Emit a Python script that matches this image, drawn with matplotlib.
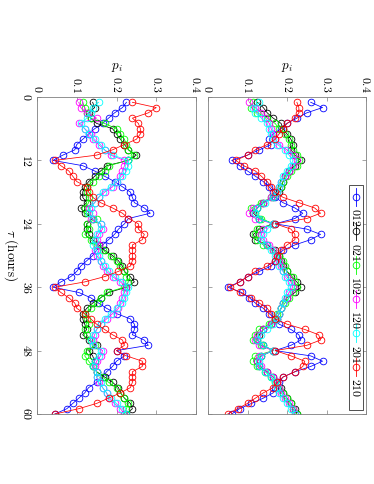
import numpy as np
import matplotlib
matplotlib.use('Agg')
import matplotlib.pyplot as plt
from matplotlib.patches import Rectangle
from matplotlib.lines import Line2D

plt.rcParams['mathtext.fontset'] = 'cm'
plt.rcParams['font.family'] = ['DejaVu Serif']

tau = np.arange(1, 61)
labels = ['012', '021', '102', '120', '201', '210']
colors = ['#0000ff', '#000000', '#00ff00', '#ff00ff', '#00ffff', '#ff0000']
p_ticks = [0, 0.1, 0.2, 0.3, 0.4]
p_ticklabels = ['0', '0.1', '0.2', '0.3', '0.4']
tau_ticks = [0, 12, 24, 36, 48, 60]

# left panel (lower subplot of the original, rotated)
left_012 = [.225, .215, .195, .18, .165, .145, .13, .115, .10, .095, .065, .04,
            .115, .145, .17, .195, .215, .235, .24, .245, .27, .285, .23, .22,
            .205, .195, .18, .165, .15, .14, .125, .11, .10, .085, .06, .04,
            .105, .135, .155, .175, .20, .235, .245, .245, .24, .27, .28, .20,
            .22, .20, .19, .175, .165, .15, .13, .12, .105, .09, .075, .045]
left_021 = [.14, .145, .13, .135, .15, .19, .20, .21, .22, .23, .25, .23,
            .175, .16, .145, .13, .12, .115, .115, .125, .11, .12, .14, .125,
            .125, .13, .14, .155, .17, .19, .205, .215, .22, .235, .245, .225,
            .18, .16, .14, .125, .115, .115, .12, .125, .115, .13, .15, .13,
            .14, .145, .14, .15, .17, .19, .205, .21, .22, .235, .24, .225]
left_102 = [.115, .12, .125, .135, .17, .20, .21, .22, .225, .23, .245, .23,
            .18, .17, .155, .14, .125, .125, .13, .13, .12, .125, .15, .125,
            .13, .12, .135, .15, .165, .185, .20, .21, .22, .225, .23, .22,
            .175, .16, .15, .135, .12, .125, .13, .12, .125, .135, .145, .125,
            .12, .13, .14, .15, .165, .18, .20, .21, .22, .23, .225, .22]
left_120 = [.105, .11, .125, .15, .105, .12, .135, .14, .155, .17, .185, .22,
            .22, .215, .21, .20, .19, .17, .155, .145, .13, .14, .135, .16,
            .165, .155, .15, .155, .145, .15, .16, .165, .175, .19, .21, .225,
            .22, .215, .21, .205, .19, .175, .16, .15, .145, .14, .14, .165,
            .16, .15, .145, .15, .15, .155, .165, .175, .18, .195, .21, .22]
left_201 = [.155, .14, .135, .125, .11, .12, .13, .145, .16, .17, .19, .23,
            .23, .225, .215, .20, .185, .165, .155, .145, .135, .13, .14, .16,
            .16, .15, .145, .14, .15, .155, .16, .17, .18, .195, .215, .23,
            .225, .22, .215, .20, .185, .17, .16, .15, .14, .135, .14, .16,
            .155, .145, .14, .15, .15, .16, .165, .175, .185, .20, .215, .225]
left_210 = [.24, .30, .28, .24, .255, .26, .26, .25, .22, .19, .15, .045,
            .06, .08, .09, .10, .125, .13, .14, .16, .19, .215, .23, .255,
            .255, .27, .265, .24, .24, .24, .24, .235, .205, .17, .12, .045,
            .06, .08, .095, .10, .12, .135, .15, .17, .19, .215, .22, .20,
            .225, .265, .265, .24, .24, .24, .235, .21, .18, .15, .105, .045]

# right panel (upper subplot of the original, rotated)
right_012 = [.26, .29, .25, .225, .20, .185, .165, .155, .16, .13, .10, .06,
             .08, .10, .12, .14, .155, .165, .17, .19, .22, .24, .22, .17,
             .25, .285, .26, .22, .19, .175, .17, .16, .13, .10, .08, .05,
             .085, .105, .12, .14, .155, .17, .18, .21, .23, .235, .21, .17,
             .26, .29, .26, .22, .19, .18, .17, .165, .14, .11, .08, .06]
right_021 = [.125, .14, .15, .165, .185, .19, .20, .21, .215, .21, .22, .235,
             .22, .205, .195, .19, .185, .18, .165, .14, .125, .115, .13, .165,
             .13, .115, .12, .15, .17, .18, .185, .19, .20, .21, .225, .235,
             .22, .20, .19, .185, .18, .175, .16, .14, .13, .125, .14, .165,
             .135, .125, .13, .15, .165, .175, .185, .19, .20, .21, .22, .225]
right_102 = [.115, .11, .125, .15, .17, .18, .195, .205, .21, .215, .225, .23,
             .225, .21, .20, .19, .185, .175, .16, .135, .11, .12, .135, .165,
             .125, .12, .125, .14, .165, .18, .19, .195, .20, .215, .22, .225,
             .215, .205, .195, .185, .175, .17, .155, .13, .12, .115, .135, .165,
             .12, .115, .125, .145, .16, .17, .18, .19, .20, .21, .215, .225]
right_120 = [.105, .12, .135, .145, .155, .16, .165, .17, .18, .20, .215, .225,
             .215, .205, .195, .185, .18, .175, .16, .14, .115, .105, .12, .165,
             .14, .135, .14, .155, .165, .175, .18, .185, .19, .20, .21, .215,
             .205, .20, .19, .185, .18, .175, .16, .14, .125, .12, .13, .165,
             .13, .125, .135, .15, .165, .175, .18, .185, .195, .205, .215, .22]
right_201 = [.13, .115, .12, .135, .15, .155, .16, .165, .175, .195, .205, .215,
             .21, .20, .19, .185, .18, .175, .165, .145, .125, .12, .13, .165,
             .15, .14, .135, .15, .16, .17, .175, .18, .19, .195, .205, .21,
             .20, .195, .19, .185, .18, .175, .165, .15, .135, .125, .14, .165,
             .135, .13, .13, .145, .16, .17, .175, .18, .19, .20, .21, .22]
right_210 = [.225, .23, .23, .22, .20, .19, .18, .17, .15, .12, .10, .07,
             .09, .12, .135, .15, .16, .17, .19, .23, .27, .285, .25, .17,
             .21, .22, .22, .20, .185, .175, .17, .15, .12, .10, .08, .055,
             .08, .11, .13, .15, .16, .17, .20, .245, .28, .285, .25, .17,
             .21, .245, .24, .22, .19, .175, .165, .14, .12, .10, .075, .05]

left_series = [left_012, left_021, left_102, left_120, left_201, left_210]
right_series = [right_012, right_021, right_102, right_120, right_201, right_210]

W, H = 374, 484
AXCOL = '#808080'


def px_axes(fig, x0, x1, y0, y1):
    # pixel box (from top-left) -> figure axes
    return fig.add_axes([x0 / W, 1 - y1 / H, (x1 - x0) / W, (y1 - y0) / H])


def panel_draw(ax, series, show_tau):
    for vals, col in zip(series, colors):
        ax.plot(vals, tau, '-o', color=col, lw=0.55, ms=4.8, mfc='none', mew=0.6)
    ax.set_xlim(0, 0.4)
    ax.set_ylim(60, 0)
    ax.set_xticks(p_ticks)
    ax.set_xticklabels(['$%s$' % s for s in p_ticklabels])
    ax.set_yticks(tau_ticks)
    ax.set_yticklabels(['$%d$' % t for t in tau_ticks])
    ax.tick_params(axis='both', direction='in', length=3, width=0.5, color=AXCOL,
                   top=True, bottom=True, left=True, right=True,
                   labeltop=True, labelbottom=False, labelleft=show_tau,
                   labelright=False, labelsize=8.5, pad=3)
    ax.tick_params(axis='x', labelrotation=-90)
    ax.tick_params(axis='y', labelrotation=-90)
    for lbl in ax.get_yticklabels():
        lbl.set_va('center')
    for sp in ax.spines.values():
        sp.set_color(AXCOL)
        sp.set_linewidth(0.6)


def legend_draw(ax):
    # vertical legend, drawn in axes coordinates of the rotated panel
    ax_w, ax_h = 158.0, 317.0
    ax.add_patch(Rectangle((141 / ax_w, 1 - 313 / ax_h), 14 / ax_w, 225 / ax_h,
                           transform=ax.transAxes, facecolor='white',
                           edgecolor='#333333', lw=0.6, zorder=5))
    xc = 148 / ax_w
    for i, (lab, col) in enumerate(zip(labels, colors)):
        ym = 1 - (100 + 34 * i) / ax_h
        dy = 9 / ax_h
        ax.add_line(Line2D([xc, xc], [ym - dy, ym + dy], transform=ax.transAxes,
                           color=col, lw=0.6, zorder=6))
        ax.add_line(Line2D([xc], [ym], transform=ax.transAxes, marker='o',
                           color=col, ms=4.8, mfc='none', mew=0.6, zorder=6))
        ax.text(xc, 1 - (121 + 34 * i) / ax_h, '$%s$' % lab, transform=ax.transAxes,
                rotation=-90, ha='center', va='center', fontsize=8.5, zorder=7)


fig = plt.figure(figsize=(3.74, 4.84), dpi=100)
ax_l = px_axes(fig, 37, 196, 97, 414)
ax_r = px_axes(fig, 208, 366, 97, 414)

panel_draw(ax_l, left_series, True)
panel_draw(ax_r, right_series, False)
legend_draw(ax_r)

fig.text(116.5 / W, 1 - 68 / H, '$p_i$', ha='center', va='center', fontsize=9.5)
fig.text(287 / W, 1 - 68 / H, '$p_i$', ha='center', va='center', fontsize=9.5)
fig.text(11 / W, 1 - 255 / H, r'$\tau\ \mathrm{(hours)}$', rotation=-90,
         ha='center', va='center', fontsize=9.5)

fig.savefig('out.png', dpi=100)
plt.close()
